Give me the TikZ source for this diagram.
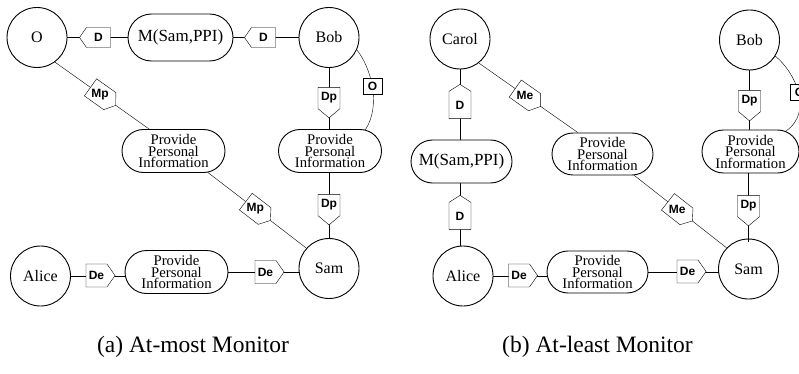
\documentclass[tikz,border=0pt]{standalone}
\usepackage{fontspec}
\setmainfont{Liberation Serif}
\newfontfamily\lblfont{Liberation Sans}
\usetikzlibrary{shapes.misc,shapes.symbols,calc}
\pgfdeclarelayer{bg}
\pgfdeclarelayer{fg}
\pgfsetlayers{bg,main,fg}
\tikzset{
  agent/.style={circle, draw, fill=white, minimum size=60pt, inner sep=0pt,
    font=\fontsize{16}{18}\selectfont},
  resource/.style={rounded rectangle, draw, fill=white, minimum width=105pt,
    minimum height=47pt, inner sep=0pt, font=\fontsize{17}{19}\selectfont},
  task/.style={rounded rectangle, draw, fill=white, minimum width=103pt,
    minimum height=43pt, inner sep=0pt, align=center,
    font=\fontsize{14.7}{11.5}\selectfont},
  lbltxt/.style={font=\lblfont\bfseries\fontsize{12}{13}\selectfont},
  dep/.style={signal, draw, fill=white, inner sep=0pt, signal pointer angle=110, lbltxt},
  depw/.style={dep, signal to=west, minimum width=31pt, minimum height=20pt},
  depe/.style={dep, signal to=east, minimum width=29pt, minimum height=23pt},
  deps/.style={dep, signal to=south, signal pointer angle=100, minimum width=22pt, minimum height=28pt},
  depn/.style={dep, signal to=north, signal pointer angle=115, minimum width=22pt, minimum height=30pt},
  depslant/.style={dep, signal to=east, minimum width=31pt, minimum height=21pt},
  deptext/.style={inner sep=0pt, lbltxt},
  obox/.style={rectangle, draw, fill=white, minimum width=19pt, minimum height=16pt,
    inner sep=0pt, lbltxt},
  caption/.style={anchor=base, inner sep=0pt, font=\fontsize{23.5}{25}\selectfont},
}
\begin{document}
\begin{tikzpicture}[x=1pt, y=-1pt, line width=0.9pt]
\useasboundingbox (0,0) rectangle (799,374);
\clip (0,0) rectangle (799,374);

% ---------- (a) actors and tasks ----------
\node[agent] (oa) at (37,37.5) {O};
\node[resource] (ma) at (180.5,37.5) {M(Sam,PPI)};
\node[agent] (boba) at (329,37.5) {Bob};
\node[task] (ppia1) at (173.5,151) {Provide\\Personal\\Information};
\node[task] (ppia2) at (330,151) {Provide\\Personal\\Information};
\node[agent] (alicea) at (40.5,276) {Alice};
\node[task] (ppia3) at (176.5,272) {Provide\\Personal\\Information};
\node[agent] (sama) at (329,268.5) {Sam};

% ---------- (b) actors and tasks ----------
\node[agent] (carolb) at (460,39) {Carol};
\node[resource, minimum width=101pt, minimum height=43pt] (mb) at (461.5,161.5) {M(Sam,PPI)};
\node[agent] (bobb) at (749.5,40) {Bob};
\node[task, minimum width=101pt, minimum height=42pt] (ppib1) at (602.5,154) {Provide\\Personal\\Information};
\node[task, minimum width=97pt] (ppib2) at (750.5,151.5) {Provide\\Personal\\Information};
\node[agent] (aliceb) at (463,276) {Alice};
\node[task, minimum width=101pt, minimum height=42pt] (ppib3) at (597.5,272) {Provide\\Personal\\Information};
\node[agent] (samb) at (748.5,269) {Sam};

% ---------- connectors ----------
\begin{pgfonlayer}{bg}
  % (a)
  \draw (oa) -- (boba);
  \draw (boba) -- (sama);
  \draw (oa.-54) -- coordinate[pos=0.48] (mpa1) (ppia1.138);
  \draw (ppia1.-32) -- coordinate[pos=0.48] (mpa2) (sama.138);
  \draw (boba.-24) .. controls (370,66) and (382,104) .. (ppia2.31);
  \draw (alicea.east) -- (alicea.east -| ppia3.center);
  \draw (ppia3.east) -- (ppia3.east -| sama.center);
  % (b)
  \draw (carolb.south) -- (carolb.south |- aliceb.north);
  \draw (carolb.-52) -- coordinate[pos=0.466] (meb1) (ppib1.139);
  \draw (ppib1.-34) -- coordinate[pos=0.466] (meb2) (samb.136);
  \draw (bobb.south) -- (bobb.south |- ppib2.north);
  \draw (bobb.-32) .. controls (795,72) and (814,112) .. (ppib2.30);
  \draw (aliceb.east) -- (aliceb.east -| ppib3.center);
  \draw (ppib3.east) -- (ppib3.east -| samb.center);
\end{pgfonlayer}
% this one runs a little way into Sam's circle
\draw (samb.north |- ppib2.south) -- ([yshift=-3pt]samb.north);

% ---------- dependum labels ----------
\begin{pgfonlayer}{fg}
  % (a)
  \node[depw] (da1) at (98.5,37.5) {D};
  \node[depw] (da2) at (263.5,37.5) {D};
  \node[deps] (dpa1) at (329,98) {Dp};
  \node[obox] (oba) at (372.5,86) {O};
  \node[depslant, rotate=-35.5] (mpa1s) at (mpa1) {};
  \node[deptext] (mpa1t) at (mpa1) {Mp};
  \node[depslant, rotate=-37.5] (mpa2s) at (mpa2) {};
  \node[deptext] (mpa2t) at (mpa2) {Mp};
  \node[deps] (dpa2) at (329,205) {Dp};
  \node[depe] (dea1) at (96.5,275.5) {De};
  \node[depe] (dea2) at (265.5,272) {De};
  % (b)
  \node[depn] (db1) at (460,105) {D};
  \node[depn] (db2) at (460,216) {D};
  \node[depslant, rotate=-35.2] (meb1s) at (meb1) {};
  \node[deptext] (meb1t) at (meb1) {Me};
  \node[depslant, rotate=-38.1] (meb2s) at (meb2) {};
  \node[deptext] (meb2t) at (meb2) {Me};
  \node[deps] (dpb1) at (749.5,101) {Dp};
  \node[obox] (obb) at (799.5,92) {O};
  \node[deps] (dpb2) at (748.5,206) {Dp};
  \node[depe] (deb1) at (519,275.5) {De};
  \node[depe] (deb2) at (687.5,271.5) {De};
\end{pgfonlayer}

% ---------- captions ----------
\node[caption] (capa) at (193,352) {(a) At-most Monitor};
\node[caption] (capb) at (597.5,352) {(b) At-least Monitor};
\end{tikzpicture}
\end{document}
